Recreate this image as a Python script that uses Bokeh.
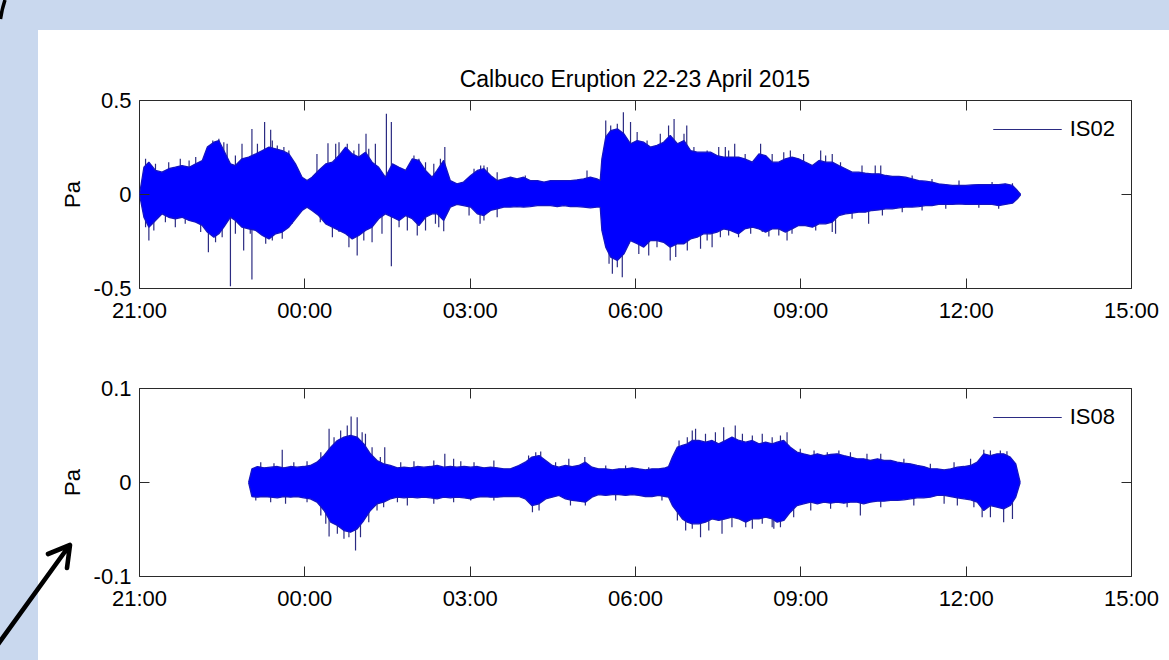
from bokeh.plotting import figure
from bokeh.layouts import column
from bokeh.models import (Range1d, FixedTicker, LinearAxis, Legend, LegendItem,
                          CustomJSTickFormatter)
from bokeh.embed import file_html
from bokeh.resources import INLINE

# ---------------- data ----------------
title_text = "Calbuco Eruption 22-23 April 2015"
# hours after 21:00 (22 April)
tick_hours = [0, 3, 6, 9, 12, 15, 18]
tick_labels = ["21:00", "00:00", "03:00", "06:00", "09:00", "12:00", "15:00"]

# IS02 envelope (Pa)
is02_hours = [0, 0.08, 0.17, 0.29, 0.41, 0.53, 0.65, 0.77, 0.90, 1.02, 1.14, 1.23, 1.35, 1.44, 1.53,
              1.65, 1.74, 1.86, 1.98, 2.11, 2.23, 2.35, 2.47, 2.59, 2.71, 2.83, 2.95, 3.04, 3.13, 3.25,
              3.38, 3.50, 3.62, 3.74, 3.86, 3.98, 4.10, 4.22, 4.34, 4.46, 4.59, 4.71, 4.83, 4.95, 5.07,
              5.19, 5.31,
              5.40, 5.52, 5.64, 5.76, 5.88, 6.01, 6.13, 6.25, 6.37, 6.49, 6.61, 6.73, 6.85, 6.97, 7.09,
              7.22, 7.34, 7.46, 7.58, 7.70, 7.82, 7.94, 8.06, 8.18, 8.30, 8.36, 8.39, 8.46, 8.55, 8.67,
              8.79, 8.91, 9.03, 9.15, 9.27, 9.39, 9.51, 9.63, 9.76, 9.88, 10.00, 10.12, 10.24, 10.36,
              10.48, 10.60, 10.72,
              10.87, 10.98, 11.12, 11.24, 11.36, 11.48, 11.60, 11.72, 11.84, 11.96, 12.08, 12.21, 12.33,
              12.45, 12.57, 12.69, 12.81, 12.93, 13.05, 13.17, 13.29, 13.42, 13.54, 13.66, 13.78, 13.90,
              14.02, 14.14, 14.26, 14.38, 14.50, 14.63, 14.75, 14.87, 14.99, 15.11, 15.23, 15.35, 15.47,
              15.59, 15.71, 15.84, 15.93, 15.99]
is02_max = [0, 0.145, 0.172, 0.128, 0.119, 0.137, 0.145, 0.154, 0.145, 0.163, 0.181, 0.252, 0.278, 0.287,
            0.234, 0.163, 0.154, 0.190, 0.199, 0.216, 0.234, 0.252, 0.243, 0.234, 0.216, 0.163, 0.092,
            0.074, 0.092, 0.128, 0.163, 0.172, 0.207, 0.252, 0.216, 0.199, 0.225, 0.172, 0.145, 0.092,
            0.163, 0.145, 0.128, 0.190, 0.181, 0.128, 0.092,
            0.128, 0.181, 0.074, 0.057, 0.066, 0.101, 0.128, 0.137, 0.101, 0.074, 0.083, 0.092, 0.083,
            0.092, 0.074, 0.074, 0.066, 0.074, 0.074, 0.074, 0.074, 0.078, 0.083, 0.092, 0.083, 0.074,
            0.190, 0.305, 0.340, 0.349, 0.323, 0.270, 0.287, 0.278, 0.252, 0.261, 0.278, 0.314, 0.270,
            0.287, 0.234, 0.225, 0.225, 0.225, 0.207, 0.199, 0.199,
            0.199, 0.190, 0.172, 0.216, 0.207, 0.172, 0.172, 0.190, 0.199, 0.190, 0.172, 0.154, 0.181,
            0.172, 0.172, 0.154, 0.137, 0.119, 0.119, 0.113, 0.110, 0.110, 0.101, 0.096, 0.096, 0.092,
            0.083, 0.074, 0.071, 0.066, 0.057, 0.053, 0.048, 0.048, 0.048, 0.051, 0.053, 0.053, 0.053,
            0.053, 0.057, 0.048, 0.021, 0]
is02_min = [0, -0.121, -0.174, -0.138, -0.103, -0.121, -0.129, -0.121, -0.138, -0.147, -0.165, -0.200,
            -0.227, -0.209, -0.174, -0.121, -0.138, -0.174, -0.183, -0.191, -0.218, -0.236, -0.209,
            -0.200, -0.174, -0.129, -0.085, -0.067, -0.085, -0.112, -0.156, -0.174, -0.191, -0.209,
            -0.236, -0.218, -0.191, -0.174, -0.129, -0.103, -0.121, -0.138, -0.112, -0.129, -0.165,
            -0.121, -0.103,
            -0.103, -0.138, -0.067, -0.053, -0.059, -0.067, -0.103, -0.112, -0.085, -0.076, -0.067,
            -0.067, -0.064, -0.067, -0.064, -0.059, -0.059, -0.059, -0.064, -0.059, -0.064, -0.064,
            -0.067, -0.071, -0.067, -0.067, -0.191, -0.280, -0.333, -0.351, -0.316, -0.245, -0.262,
            -0.280, -0.245, -0.245, -0.254, -0.280, -0.262, -0.262, -0.236, -0.227, -0.209, -0.209,
            -0.200, -0.183, -0.191,
            -0.209, -0.183, -0.174, -0.183, -0.200, -0.183, -0.183, -0.200, -0.183, -0.165, -0.165,
            -0.174, -0.156, -0.156, -0.147, -0.112, -0.103, -0.099, -0.094, -0.094, -0.085, -0.082,
            -0.076, -0.076, -0.071, -0.067, -0.067, -0.064, -0.059, -0.059, -0.053, -0.053, -0.053,
            -0.050, -0.053, -0.053, -0.053, -0.053, -0.053, -0.059, -0.053, -0.046, -0.023, 0]
# individual peaks sticking out of the IS02 envelope
is02_spike_hours = [1.33, 1.44, 2.04, 2.27, 2.38, 3.22, 3.42, 4.11, 4.48, 4.57, 5.54, 6.25, 8.46, 8.78,
                    8.91, 9.60, 9.70, 9.93, 10.51, 10.80, 11.27, 11.81, 12.36, 12.57, 13.35,
                    0.17, 1.25, 1.65, 1.89, 2.04, 3.50, 3.95, 4.57, 5.04, 5.52, 6.18, 8.58, 8.76,
                    9.24, 9.63, 9.73, 10.39, 10.87, 11.42, 11.75, 12.63, 13.23,
                    0.11, 0.29, 0.53, 0.74, 0.90, 1.02, 1.53, 1.59, 1.74, 1.86, 2.14, 2.41, 2.50, 2.62,
                    2.71, 3.56, 3.62, 3.77, 3.89, 3.98, 4.16, 4.28, 4.98, 5.07, 5.19,
                    0.11, 0.26, 0.47, 0.65, 0.83, 1.11, 1.38, 1.50, 1.74, 2.01, 2.29, 2.41, 2.59, 2.77,
                    3.28, 3.62, 3.80, 4.07, 4.22, 4.40, 4.71, 4.86, 5.19,
                    5.34, 5.46, 6.07, 6.19, 6.31, 6.49, 7.00, 8.12, 8.55, 8.67, 9.03, 9.21, 9.45, 9.88,
                    10.06, 10.30, 10.63,
                    5.37, 5.43, 5.98, 6.25, 6.49, 8.52, 8.67, 8.88, 9.06, 9.39, 9.94, 10.18, 10.30, 10.54,
                    10.69, 10.99, 11.48, 11.69, 12.05, 12.45, 12.72, 13.11, 13.45, 14.02, 14.38, 14.87,
                    15.47, 15.84,
                    10.69, 11.09, 11.30, 11.60, 11.84, 12.27, 12.57, 12.93, 13.48, 13.84, 14.20, 14.63,
                    15.23, 15.59]
is02_spike_pa = [0.287, 0.296, 0.349, 0.385, 0.344, 0.216, 0.273, 0.323, 0.429, 0.385, 0.252, 0.154,
                 0.394, 0.438, 0.385, 0.367, 0.402, 0.367, 0.252, 0.270, 0.270, 0.234, 0.234, 0.216,
                 0.154,
                 -0.245, -0.307, -0.488, -0.298, -0.452, -0.227, -0.324, -0.381, -0.218, -0.195,
                 -0.156, -0.422, -0.440, -0.324, -0.351, -0.333, -0.280, -0.227, -0.223, -0.245,
                 -0.209, -0.156,
                 0.190, 0.163, 0.172, 0.190, 0.181, 0.199, 0.278, 0.270, 0.207, 0.270, 0.270, 0.287,
                 0.261, 0.252, 0.234, 0.270, 0.278, 0.270, 0.234, 0.270, 0.243, 0.270, 0.207, 0.190,
                 0.172,
                 -0.174, -0.191, -0.147, -0.174, -0.156, -0.200, -0.254, -0.227, -0.209, -0.209,
                 -0.262, -0.245, -0.236, -0.156, -0.147, -0.200, -0.280, -0.245, -0.254, -0.209,
                 -0.174, -0.191, -0.191,
                 0.163, 0.190, 0.137, 0.154, 0.145, 0.119, 0.101, 0.128, 0.367, 0.376, 0.332, 0.287,
                 0.323, 0.323, 0.252, 0.234, 0.252,
                 -0.156, -0.174, -0.112, -0.138, -0.121, -0.369, -0.387, -0.262, -0.316, -0.280,
                 -0.298, -0.289, -0.245, -0.227,
                 0.234, 0.216, 0.216, 0.225, 0.216, 0.207, 0.172, 0.154, 0.154, 0.101, 0.083, 0.074,
                 0.066, 0.060,
                 -0.218, -0.209, -0.200, -0.218, -0.209, -0.191, -0.200, -0.129, -0.112, -0.094,
                 -0.085, -0.076, -0.071, -0.076]

# IS08 envelope (Pa)
is08_hours = [1.98, 2.04, 2.14, 2.26, 2.38, 2.50, 2.62, 2.74, 2.86, 2.98, 3.10, 3.22, 3.35, 3.47, 3.59,
              3.71, 3.83, 3.95, 4.07, 4.19, 4.31, 4.43, 4.55, 4.68, 4.80, 4.92, 5.04, 5.16, 5.28, 5.40,
              5.52, 5.64, 5.76, 5.89, 6.01, 6.13, 6.25, 6.37, 6.49, 6.61, 6.73,
              6.88, 7.00, 7.12, 7.25, 7.37, 7.49, 7.61, 7.73, 7.85, 7.97, 8.09, 8.21, 8.33, 8.46, 8.58,
              8.70, 8.82, 8.94, 9.06, 9.18, 9.30, 9.42, 9.54, 9.60, 9.67, 9.76, 9.85, 9.94, 10.03,
              10.15, 10.27, 10.39, 10.51, 10.63, 10.75, 10.88, 11.00, 11.12, 11.24, 11.36, 11.48,
              11.57, 11.69, 11.81, 11.93, 12.05, 12.18, 12.30, 12.42, 12.54, 12.66, 12.78, 12.90,
              13.02, 13.14, 13.26, 13.39, 13.51, 13.63, 13.75, 13.87, 13.99, 14.11, 14.23, 14.35,
              14.47, 14.60, 14.72, 14.84, 14.96, 15.08, 15.20, 15.32, 15.44, 15.56, 15.68, 15.80,
              15.90, 15.98]
is08_max = [0, 0.0145, 0.0170, 0.0156, 0.0163, 0.0170, 0.0156, 0.0170, 0.0163, 0.0170, 0.0181, 0.0216,
            0.0287, 0.0376, 0.0447, 0.0482, 0.0500, 0.0482, 0.0411, 0.0305, 0.0234, 0.0199, 0.0181,
            0.0156, 0.0163, 0.0156, 0.0170, 0.0163, 0.0170, 0.0181, 0.0163, 0.0170, 0.0163, 0.0170,
            0.0163, 0.0170, 0.0156, 0.0163, 0.0156, 0.0145, 0.0145,
            0.0181, 0.0216, 0.0270, 0.0287, 0.0234, 0.0181, 0.0163, 0.0181, 0.0170, 0.0181, 0.0216,
            0.0163, 0.0145, 0.0145, 0.0135, 0.0145, 0.0145, 0.0156, 0.0145, 0.0135, 0.0145, 0.0145,
            0.0156, 0.0170, 0.0270, 0.0376, 0.0394, 0.0411, 0.0447, 0.0447, 0.0429, 0.0447, 0.0411,
            0.0447, 0.0482, 0.0447, 0.0429, 0.0447, 0.0411, 0.0429, 0.0411,
            0.0429, 0.0447, 0.0376, 0.0323, 0.0305, 0.0287, 0.0305, 0.0287, 0.0298, 0.0305, 0.0287,
            0.0270, 0.0252, 0.0252, 0.0234, 0.0252, 0.0234, 0.0234, 0.0216, 0.0206, 0.0199, 0.0181,
            0.0170, 0.0145, 0.0145, 0.0135, 0.0145, 0.0163, 0.0170, 0.0181, 0.0216, 0.0305, 0.0287,
            0.0305, 0.0305, 0.0270, 0.0199, 0]
is08_min = [0, -0.0149, -0.0156, -0.0149, -0.0156, -0.0163, -0.0149, -0.0156, -0.0149, -0.0163, -0.0174,
            -0.0209, -0.0298, -0.0423, -0.0457, -0.0511, -0.0528, -0.0493, -0.0404, -0.0298, -0.0227,
            -0.0209, -0.0174, -0.0156, -0.0163, -0.0156, -0.0163, -0.0156, -0.0163, -0.0174, -0.0156,
            -0.0163, -0.0156, -0.0163, -0.0174, -0.0156, -0.0149, -0.0156, -0.0156, -0.0149, -0.0149,
            -0.0149, -0.0174, -0.0245, -0.0227, -0.0174, -0.0156, -0.0138, -0.0174, -0.0191, -0.0199,
            -0.0209, -0.0156, -0.0128, -0.0138, -0.0128, -0.0128, -0.0138, -0.0128, -0.0138, -0.0149,
            -0.0149, -0.0138, -0.0149, -0.0156, -0.0245, -0.0316, -0.0387, -0.0422, -0.0440, -0.0440,
            -0.0422, -0.0387, -0.0404, -0.0387, -0.0369, -0.0387, -0.0422, -0.0387, -0.0387, -0.0369,
            -0.0387,
            -0.0422, -0.0404, -0.0316, -0.0245, -0.0227, -0.0209, -0.0227, -0.0209, -0.0220, -0.0209,
            -0.0220, -0.0209, -0.0209, -0.0227, -0.0209, -0.0199, -0.0199, -0.0191, -0.0191, -0.0184,
            -0.0174, -0.0163, -0.0163, -0.0156, -0.0138, -0.0138, -0.0149, -0.0163, -0.0174, -0.0184,
            -0.0209, -0.0298, -0.0245, -0.0262, -0.0280, -0.0245, -0.0156, 0]
# individual peaks sticking out of the IS08 envelope
is08_spike_hours = [2.59, 3.44, 3.77, 3.84, 3.95, 4.10, 4.45, 5.54, 5.70, 7.28, 7.79, 8.08, 9.94, 10.09,
                    10.60, 10.81, 11.12, 11.63, 11.75, 12.69, 14.78, 15.32, 15.62, 15.74,
                    3.29, 3.44, 3.71, 3.92, 4.43, 4.86, 6.01, 7.13, 7.82, 10.03, 10.18, 10.57, 11.00,
                    11.48, 11.51, 11.63, 13.08, 15.29, 15.68, 15.84,
                    2.20, 2.44, 2.80, 3.04, 3.29, 3.53, 3.65, 4.04, 4.22, 4.37, 4.74, 4.98, 5.34, 5.83,
                    6.07, 6.43,
                    2.11, 2.38, 2.65, 3.04, 3.38, 3.59, 3.80, 4.01, 4.16, 4.31, 4.68, 5.34, 5.70, 6.43,
                    7.06, 7.19, 7.55, 8.46, 8.82, 9.24, 9.79, 10.03, 10.27, 10.45, 10.94, 11.30, 11.48,
                    7.25, 8.09, 8.64, 9.48, 9.76, 9.91, 10.33, 10.75, 11.12, 11.30,
                    11.99, 12.24, 12.48, 12.90, 13.20, 13.45, 13.87, 14.35, 15.08, 15.44,
                    11.87, 12.18, 12.54, 12.84, 13.45, 14.05, 14.60, 14.84, 15.14, 15.44]
is08_spike_pa = [0.0348, 0.0571, 0.0606, 0.0702, 0.0695, 0.0518, 0.0376, 0.0305, 0.0252, 0.0330,
                 0.0252, 0.0270, 0.0482, 0.0571, 0.0589, 0.0606, 0.0500, 0.0500, 0.0535, 0.0340,
                 0.0216, 0.0348, 0.0340, 0.0333,
                 -0.0351, -0.0574, -0.0599, -0.0723, -0.0262, -0.0245, -0.0191, -0.0316, -0.0245,
                 -0.0493, -0.0582, -0.0546, -0.0475, -0.0475, -0.0493, -0.0475, -0.0351, -0.0369,
                 -0.0422, -0.0387,
                 0.0216, 0.0206, 0.0216, 0.0227, 0.0323, 0.0482, 0.0553, 0.0535, 0.0376, 0.0270,
                 0.0216, 0.0227, 0.0234, 0.0227, 0.0216, 0.0234,
                 -0.0191, -0.0209, -0.0227, -0.0209, -0.0440, -0.0546, -0.0582, -0.0582, -0.0422,
                 -0.0298, -0.0209, -0.0227, -0.0209, -0.0191,
                 0.0287, 0.0323, 0.0216, 0.0181, 0.0181, 0.0163, 0.0447, 0.0553, 0.0518, 0.0535,
                 0.0518, 0.0518, 0.0482,
                 -0.0298, -0.0245, -0.0191, -0.0191, -0.0404, -0.0511, -0.0511, -0.0475, -0.0493,
                 -0.0440,
                 0.0358, 0.0340, 0.0323, 0.0323, 0.0305, 0.0305, 0.0252, 0.0199, 0.0252, 0.0340,
                 -0.0369, -0.0298, -0.0280, -0.0262, -0.0262, -0.0245, -0.0227, -0.0245, -0.0262,
                 -0.0369]

is02_yticks = [-0.5, 0, 0.5]
is02_ylabels = ["-0.5", "0", "0.5"]
is08_yticks = [-0.1, 0, 0.1]
is08_ylabels = ["-0.1", "0", "0.1"]

# ---------------- styling ----------------
FONT = "Liberation Sans"
FS = "22px"
BG_BLUE_CSS = "#c9d8ee"
WAVE = "#0000ff"
EDGE = "#1414c4"
SPIKE = "#2b2b82"
AX = "#2a2a2a"

empty_fmt = CustomJSTickFormatter(code="return ''")


def style_axis(ax, ticks, labels=None, show_labels=True):
    ax.ticker = FixedTicker(ticks=ticks)
    ax.axis_line_color = None
    ax.major_tick_in = 10
    ax.major_tick_out = 0
    ax.minor_tick_line_color = None
    ax.major_tick_line_color = AX
    ax.major_tick_line_width = 1
    if show_labels:
        ax.major_label_overrides = {t: l for t, l in zip(ticks, labels)}
        ax.major_label_text_font = FONT
        ax.major_label_text_font_size = FS
        ax.major_label_text_color = "#000000"
    else:
        ax.formatter = empty_fmt
        ax.major_label_text_font_size = "1px"
        ax.major_label_standoff = 0


def panel(hours, vmax, vmin, sp_h, sp_v, yticks, ylabels, name, height, b_top, b_bottom):
    p = figure(width=1169, height=height, x_range=Range1d(0, 18),
               y_range=Range1d(yticks[0], yticks[-1]),
               output_backend="svg", toolbar_location=None,
               min_border_left=139, min_border_right=38,
               min_border_top=b_top, min_border_bottom=b_bottom)
    p.border_fill_color = None
    p.background_fill_color = "#ffffff"
    p.outline_line_color = AX
    p.outline_line_width = 1
    p.grid.visible = False

    # peaks first, so that only the part outside the envelope shows
    spikes = p.segment(x0=sp_h, y0=[0] * len(sp_h), x1=sp_h, y1=sp_v,
                       line_color=SPIKE, line_width=1.2)
    p.varea(x=hours, y1=vmin, y2=vmax, fill_color=WAVE)
    p.line(hours, vmax, line_color=EDGE, line_width=1.3)
    p.line(hours, vmin, line_color=EDGE, line_width=1.3)

    xa = p.xaxis[0]
    style_axis(xa, tick_hours, tick_labels)
    xa.major_label_standoff = 9
    ya = p.yaxis[0]
    style_axis(ya, yticks, ylabels)
    ya.major_label_standoff = 8
    ya.axis_label = "Pa"
    ya.axis_label_text_font = FONT
    ya.axis_label_text_font_size = FS
    ya.axis_label_text_font_style = "normal"
    ya.axis_label_text_color = "#000000"
    ya.axis_label_standoff = 6

    top = LinearAxis()
    style_axis(top, tick_hours, show_labels=False)
    p.add_layout(top, "above")
    right = LinearAxis()
    style_axis(right, yticks, show_labels=False)
    p.add_layout(right, "right")

    legend = Legend(items=[LegendItem(label=name, renderers=[spikes])],
                    location="top_right", border_line_color=None,
                    background_fill_alpha=0, label_text_font=FONT,
                    label_text_font_size=FS, label_text_color="#000000",
                    glyph_width=69, glyph_height=20,
                    label_standoff=8, padding=0, margin=16, spacing=0)
    p.add_layout(legend)
    return p


p1 = panel(is02_hours, is02_max, is02_min, is02_spike_hours, is02_spike_pa,
           is02_yticks, is02_ylabels, "IS02", 345, 100, 57)
p1.title.text = title_text
p1.title.align = "center"
p1.title.text_font = FONT
p1.title.text_font_size = "23px"
p1.title.text_font_style = "normal"
p1.title.text_color = "#000000"
p1.title.standoff = 18

# slide background: light blue margin on the left/top, with decorative black strokes
corner_svg = ("url(\"data:image/svg+xml;utf8,<svg xmlns='http://www.w3.org/2000/svg' width='20' height='30'>"
              "<path d='M0.5 19 Q2 9 5 0' stroke='black' stroke-width='3.5' fill='none'/></svg>\")")
arrow_svg = ("url(\"data:image/svg+xml;utf8,<svg xmlns='http://www.w3.org/2000/svg' width='120' height='315'>"
             "<path d='M-4 302 L69 201 M48 209 L70 200 L67 223' stroke='black' stroke-width='4.6' "
             "fill='none' stroke-linecap='round' stroke-linejoin='round'/></svg>\")")

p1.styles = {
    "background-image": corner_svg + ", linear-gradient(to right, %s 38px, rgba(0,0,0,0) 38px), "
                        "linear-gradient(to bottom, %s 30px, #ffffff 30px)" % (BG_BLUE_CSS, BG_BLUE_CSS),
    "background-repeat": "no-repeat",
    "background-position": "0 0",
}

p2 = panel(is08_hours, is08_max, is08_min, is08_spike_hours, is08_spike_pa,
           is08_yticks, is08_ylabels, "IS08", 315, 43, 84)
p2.styles = {
    "background-image": arrow_svg + ", linear-gradient(to right, %s 38px, #ffffff 38px)" % BG_BLUE_CSS,
    "background-repeat": "no-repeat",
    "background-position": "0 0",
}

layout = column(p1, p2, spacing=0)
open("out.html", "w").write(file_html(layout, INLINE))
